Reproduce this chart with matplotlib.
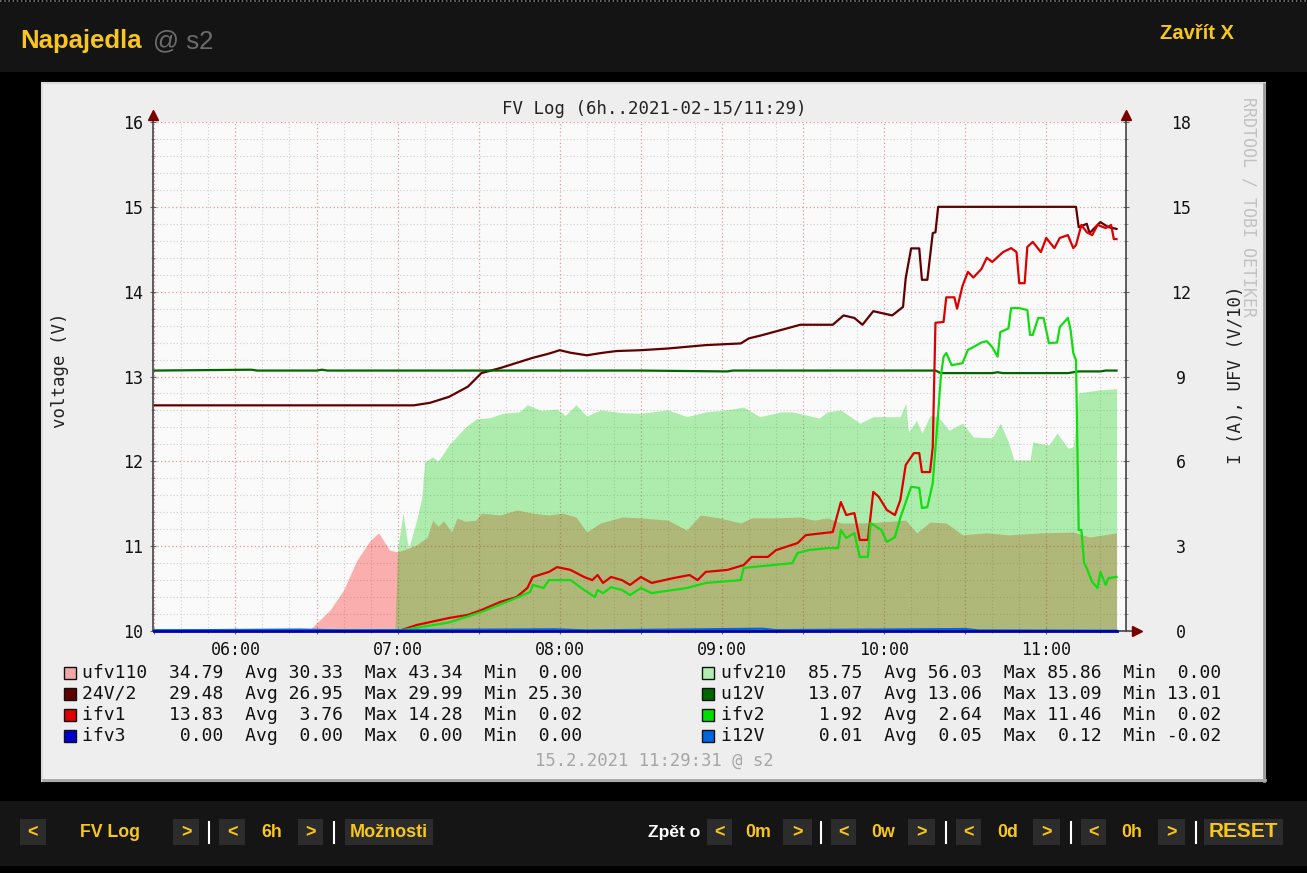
import numpy as np
import matplotlib
matplotlib.use('Agg')
import matplotlib.pyplot as plt
from matplotlib.patches import Rectangle
from matplotlib.lines import Line2D
from matplotlib.ticker import MultipleLocator, FuncFormatter

# ---- series (time HH:MM, value) ----
# voltages on the left axis (V)
u24_half_t = ['05:30', '07:06', '07:12', '07:17', '07:19', '07:26', '07:31', '07:38', '07:44', '07:50',
              '07:56', '08:00', '08:04', '08:10', '08:16', '08:21', '08:30', '08:40', '08:54', '09:07',
              '09:10', '09:14', '09:29', '09:41', '09:45', '09:49', '09:52', '09:56', '10:03', '10:07',
              '10:08', '10:10', '10:13', '10:14', '10:16', '10:18', '10:19', '10:20', '11:11', '11:12',
              '11:15', '11:16', '11:20', '11:23', '11:26']
u24_half_v = [12.66, 12.66, 12.69, 12.74, 12.76, 12.88, 13.04, 13.10, 13.16, 13.22,
              13.27, 13.31, 13.28, 13.25, 13.28, 13.30, 13.31, 13.33, 13.37, 13.39,
              13.45, 13.48, 13.61, 13.61, 13.72, 13.69, 13.61, 13.77, 13.72, 13.82,
              14.16, 14.51, 14.51, 14.14, 14.14, 14.69, 14.70, 15.00, 15.00, 14.76,
              14.80, 14.69, 14.82, 14.76, 14.74]

u12v_t = ['05:30', '06:06', '06:08', '06:30', '06:32', '06:34', '07:20', '08:30', '09:02', '09:04',
          '10:19', '10:21', '10:40', '10:42', '10:44', '11:08', '11:12', '11:20', '11:22', '11:26']
u12v_v = [13.07, 13.08, 13.07, 13.07, 13.08, 13.07, 13.07, 13.07, 13.06, 13.07,
          13.07, 13.04, 13.04, 13.05, 13.04, 13.04, 13.06, 13.06, 13.07, 13.07]

# panel voltages (V, drawn as V/10 on the right axis)
ufv110_t = ['05:30', '06:27', '06:30', '06:35', '06:40', '06:45', '06:50', '06:53', '06:57', '07:00',
            '07:02', '07:07', '07:11', '07:13', '07:15', '07:17', '07:20', '07:22', '07:25', '07:29',
            '07:31', '07:38', '07:44', '07:50', '07:56', '08:01', '08:06', '08:10', '08:15', '08:23',
            '08:30', '08:40', '08:47', '08:52', '08:59', '09:07', '09:11', '09:19', '09:29', '09:34',
            '09:39', '09:44', '09:51', '09:58', '10:08', '10:12', '10:17', '10:23', '10:29', '10:38',
            '10:46', '10:58', '11:10', '11:16', '11:26']
ufv110_v = [0.0, 0.0, 2.8, 7.4, 14.5, 25.1, 32.2, 34.7, 28.6, 28.0,
            28.6, 30.4, 33.2, 39.2, 37.0, 39.0, 35.0, 40.0, 38.8, 39.2,
            41.7, 41.0, 42.8, 41.7, 41.0, 41.7, 40.3, 35.0, 38.2, 40.3,
            40.0, 39.2, 35.7, 41.0, 40.0, 38.2, 40.0, 40.0, 40.3, 39.2,
            40.0, 38.2, 38.2, 38.5, 39.2, 34.7, 38.5, 38.2, 34.0, 34.7,
            34.0, 34.7, 35.0, 33.2, 34.7]

ufv210_t = ['05:30', '06:59', '07:00', '07:02', '07:04', '07:07', '07:09', '07:10', '07:13', '07:15',
            '07:19', '07:25', '07:29', '07:34', '07:39', '07:45', '07:48', '07:53', '07:59', '08:02',
            '08:06', '08:10', '08:15', '08:23', '08:30', '08:40', '08:47', '08:54', '09:02', '09:08',
            '09:14', '09:22', '09:26', '09:36', '09:39', '09:44', '09:51', '09:56', '10:06', '10:08',
            '10:09', '10:12', '10:14', '10:17', '10:20', '10:24', '10:29', '10:33', '10:40', '10:43',
            '10:46', '10:48', '10:54', '10:55', '11:01', '11:04', '11:08', '11:10', '11:12', '11:19',
            '11:26']
ufv210_v = [0.0, 0.0, 29.0, 41.7, 29.0, 39.0, 47.4, 59.8, 61.5, 60.0,
            65.8, 72.0, 75.0, 75.4, 77.0, 77.5, 80.0, 78.0, 78.5, 76.2,
            80.0, 76.0, 78.2, 77.2, 77.0, 78.2, 75.8, 77.5, 78.2, 79.2,
            75.8, 77.5, 77.5, 75.3, 77.5, 78.2, 73.5, 75.8, 75.8, 80.6,
            70.3, 74.5, 70.0, 76.2, 75.8, 71.0, 73.5, 68.6, 68.3, 73.5,
            66.8, 60.5, 60.5, 66.8, 65.8, 70.0, 64.7, 65.0, 84.2, 85.2,
            85.7]

# currents (A, right axis)
ifv1_t = ['05:30', '07:01', '07:07', '07:19', '07:26', '07:31', '07:38', '07:44', '07:48', '07:50',
          '07:56', '07:59', '08:04', '08:09', '08:12', '08:14', '08:16', '08:19', '08:23', '08:26',
          '08:30', '08:34', '08:42', '08:48', '08:51', '08:54', '09:02', '09:08', '09:11', '09:17',
          '09:20', '09:28', '09:31', '09:41', '09:44', '09:46', '09:49', '09:51', '09:54', '09:56',
          '09:58', '10:01', '10:04', '10:06', '10:08', '10:11', '10:13', '10:14', '10:17', '10:18',
          '10:19', '10:22', '10:23', '10:26', '10:27', '10:29', '10:31', '10:33', '10:36', '10:38',
          '10:40', '10:44', '10:47', '10:49', '10:50', '10:52', '10:53', '10:55', '10:58', '11:00',
          '11:03', '11:05', '11:08', '11:10', '11:11', '11:13', '11:15', '11:17', '11:19', '11:22',
          '11:24', '11:25', '11:26']
ifv1_v = [0.02, 0.02, 0.21, 0.46, 0.57, 0.74, 1.03, 1.20, 1.52, 1.91,
          2.09, 2.26, 2.16, 1.91, 1.80, 1.98, 1.70, 1.91, 1.80, 1.63,
          1.91, 1.70, 1.87, 1.98, 1.80, 2.09, 2.16, 2.33, 2.62, 2.62,
          2.86, 3.11, 3.39, 3.50, 4.56, 4.10, 4.17, 3.22, 3.22, 4.92,
          4.75, 4.28, 4.10, 4.63, 5.87, 6.29, 6.29, 5.62, 5.62, 6.50,
          10.90, 10.93, 11.80, 11.80, 11.40, 12.20, 12.70, 12.50, 12.80, 13.20,
          13.05, 13.40, 13.54, 13.40, 12.30, 12.30, 13.58, 13.76, 13.40, 13.90,
          13.54, 13.90, 14.00, 13.54, 13.65, 14.36, 14.10, 14.00, 14.36, 14.25,
          14.36, 13.86, 13.86]

ifv2_t = ['05:30', '07:01', '07:19', '07:31', '07:44', '07:49', '07:50', '07:54', '07:56', '08:04',
          '08:08', '08:13', '08:14', '08:16', '08:19', '08:23', '08:26', '08:30', '08:34', '08:47',
          '08:54', '09:07', '09:08', '09:26', '09:28', '09:32', '09:39', '09:43', '09:44', '09:46',
          '09:49', '09:51', '09:54', '09:55', '09:59', '10:01', '10:04', '10:06', '10:10', '10:13',
          '10:14', '10:16', '10:18', '10:20', '10:21', '10:22', '10:23', '10:25', '10:29', '10:31',
          '10:33', '10:36', '10:38', '10:40', '10:42', '10:43', '10:46', '10:47', '10:50', '10:53',
          '10:54', '10:55', '10:57', '10:59', '11:01', '11:04', '11:05', '11:08', '11:09', '11:10',
          '11:11', '11:12', '11:13', '11:14', '11:15', '11:17', '11:19', '11:20', '11:22', '11:23',
          '11:26']
ifv2_v = [0.02, 0.02, 0.30, 0.67, 1.17, 1.38, 1.63, 1.52, 1.80, 1.80,
          1.52, 1.20, 1.45, 1.34, 1.55, 1.45, 1.27, 1.52, 1.34, 1.52,
          1.70, 1.80, 2.23, 2.40, 2.76, 2.86, 2.93, 2.93, 3.57, 3.29,
          3.46, 2.62, 2.62, 3.82, 3.57, 3.15, 3.32, 4.00, 5.10, 5.06,
          4.35, 4.38, 5.23, 7.70, 9.00, 9.70, 9.83, 9.40, 9.47, 9.94,
          10.04, 10.20, 10.25, 10.04, 9.70, 10.57, 10.70, 11.42, 11.42, 11.35,
          10.47, 10.47, 11.07, 11.07, 10.18, 10.20, 10.75, 11.07, 10.65, 9.83,
          9.58, 3.57, 3.57, 2.40, 2.22, 1.73, 1.52, 2.09, 1.63, 1.87,
          1.91]

ifv3_t = ['05:30', '11:26']
ifv3_v = [0.0, 0.0]

i12v_t = ['05:30', '06:24', '06:40', '07:58', '08:10', '09:15', '09:20', '10:30', '10:35', '11:26']
i12v_v = [0.02, 0.05, 0.02, 0.06, 0.02, 0.08, 0.03, 0.07, 0.02, 0.01]

# legend table: name, last, avg, max, min
leg_left = [('ufv110', 34.79, 30.33, 43.34, 0.00),
            ('24V/2', 29.48, 26.95, 29.99, 25.30),
            ('ifv1', 13.83, 3.76, 14.28, 0.02),
            ('ifv3', 0.00, 0.00, 0.00, 0.00)]
leg_right = [('ufv210', 85.75, 56.03, 85.86, 0.00),
             ('u12V', 13.07, 13.06, 13.09, 13.01),
             ('ifv2', 1.92, 2.64, 11.46, 0.02),
             ('i12V', 0.01, 0.05, 0.12, -0.02)]
leg_left_colors = ['#f0a8a8', '#600000', '#dd0000', '#0000cc']
leg_right_colors = ['#b2ecb2', '#006600', '#00dd00', '#0066dd']


def to_h(ts):
    return np.array([int(t[:2]) + int(t[3:5]) / 60 for t in ts])


W, H = 1307, 873
MONO = ['DejaVu Sans Mono']
WEB = ['Liberation Sans', 'DejaVu Sans']
YEL = '#f8c61c'

plt.rcParams['font.family'] = MONO


def fx(x):
    return x / W


def fy(y):
    return 1 - y / H


fig = plt.figure(figsize=(W / 100, H / 100), dpi=100, facecolor='black')


def rect(x0, y0, x1, y1, fc, ec='none', lw=0, z=-10):
    fig.add_artist(Rectangle((fx(x0), fy(y1)), fx(x1) - fx(x0), fy(y0) - fy(y1),
                             transform=fig.transFigure, facecolor=fc, edgecolor=ec, lw=lw, zorder=z))


# page header
rect(0, 2, W, 72, '#141414')
fig.add_artist(Line2D([0, 1], [fy(1), fy(1)], transform=fig.transFigure, color='#777777',
                      lw=1.2, ls=(0, (1, 1.5))))
fig.text(fx(20), fy(48), 'Napajedla', family=WEB, weight='bold', fontsize=18.5, color=YEL, va='baseline')
fig.text(fx(153), fy(48), '@ s2', family=WEB, fontsize=18.5, color='#6c6c6c', va='baseline')
fig.text(fx(1197), fy(39), 'Zavřít X', family=WEB, weight='bold', fontsize=14.5, color=YEL,
         ha='center', va='baseline')

# rrd image panel
rect(42, 83, 1265, 781, '#eeeeee', ec='#dadada', lw=1.5)
fig.add_artist(Line2D([fx(1264), fx(1264)], [fy(84), fy(781)], transform=fig.transFigure,
                      color='#9a9a9a', lw=2, zorder=-9))
fig.add_artist(Line2D([fx(43), fx(1265)], [fy(780), fy(780)], transform=fig.transFigure,
                      color='#a8a8a8', lw=2, zorder=-9))

ax = fig.add_axes([fx(153), fy(631), fx(1126) - fx(153), fy(122) - fy(631)])
ax.set_facecolor('#fafafa')
ax2 = ax.twinx()

x0, x1 = 5 + 29.5 / 60, 11 + 29.5 / 60
ax.set_xlim(x0, x1)
ax.set_ylim(10, 16)
ax2.set_ylim(0, 18)

ax.xaxis.set_major_locator(MultipleLocator(0.5))
ax.xaxis.set_minor_locator(MultipleLocator(1 / 6))
ax.xaxis.set_major_formatter(FuncFormatter(
    lambda v, p: f'{int(round(v)):02d}:00' if abs(v - round(v)) < 1e-6 else ''))
ax.yaxis.set_major_locator(MultipleLocator(1))
ax.yaxis.set_minor_locator(MultipleLocator(0.2))
ax2.yaxis.set_major_locator(MultipleLocator(3))
ax2.yaxis.set_minor_locator(MultipleLocator(0.6))

ax.set_axisbelow(True)
ax.grid(which='minor', color='#cfcfcf', lw=0.8, ls=(0, (1, 2)))
ax.grid(which='major', color='#e49a9a', lw=0.9, ls=(0, (1, 2)))

for a in (ax, ax2):
    for s in a.spines.values():
        s.set_visible(False)
ax.spines['left'].set_visible(True)
ax.spines['bottom'].set_visible(True)
ax2.spines['right'].set_visible(True)
for s in (ax.spines['left'], ax.spines['bottom'], ax2.spines['right']):
    s.set_color('#444444')
    s.set_linewidth(1.2)

ax.tick_params(axis='both', which='major', direction='inout', length=5, color='#666666',
               labelsize=12, labelcolor='#111111')
ax.tick_params(axis='both', which='minor', direction='inout', length=3, color='#888888')
ax.tick_params(axis='y', pad=5)
ax.tick_params(axis='x', pad=5)
ax2.tick_params(axis='y', which='major', direction='inout', length=5, color='#666666',
                labelsize=12, labelcolor='#111111', pad=37)
ax2.tick_params(axis='y', which='minor', direction='inout', length=3, color='#888888')
ax2.set_yticks(np.arange(0, 19, 3))
for lbl in ax2.get_yticklabels():
    lbl.set_horizontalalignment('center')

# areas (UFV/10 on right axis)
ax2.fill_between(to_h(ufv110_t), np.array(ufv110_v) / 10, color=(1, 0, 0), alpha=0.3, lw=0)
ax2.fill_between(to_h(ufv210_t), np.array(ufv210_v) / 10, color=(0, 0.8, 0), alpha=0.3, lw=0)

# voltage lines
ax.plot(to_h(u24_half_t), u24_half_v, color='#600000', lw=1.6)
ax.plot(to_h(u12v_t), u12v_v, color='#006600', lw=1.6)

# currents
ax2.plot(to_h(ifv1_t), ifv1_v, color='#dd0000', lw=1.6)
ax2.plot(to_h(ifv2_t), ifv2_v, color='#11dd11', lw=1.6)
ax2.plot(to_h(i12v_t), i12v_v, color='#0066dd', lw=1.6, clip_on=False)
ax2.plot(to_h(ifv3_t), ifv3_v, color='#0000aa', lw=2.0, clip_on=False)

# axis arrows
ax.plot([0, 0], [1, 1.012], transform=ax.transAxes, color='#444444', lw=1.2, clip_on=False)
ax.plot([1, 1], [1, 1.012], transform=ax.transAxes, color='#444444', lw=1.2, clip_on=False)
ax.plot([1, 1.008], [0, 0], transform=ax.transAxes, color='#444444', lw=1.2, clip_on=False)
ax.plot([0], [1.013], transform=ax.transAxes, marker='^', ms=7, color='#7a0000', clip_on=False)
ax.plot([1], [1.013], transform=ax.transAxes, marker='^', ms=7, color='#7a0000', clip_on=False)
ax.plot([1.011], [0], transform=ax.transAxes, marker='>', ms=7, color='#7a0000', clip_on=False)

# rrd texts
fig.text(fx(654), fy(109), 'FV Log (6h..2021-02-15/11:29)', ha='center', va='center',
         fontsize=12.5, color='#222222')
fig.text(fx(60), fy(370), 'voltage (V)', rotation=90, ha='center', va='center', fontsize=12.5, color='#222222')
fig.text(fx(1236), fy(375), 'I (A), UFV (V/10)', rotation=90, ha='center', va='center',
         fontsize=12.5, color='#222222')
fig.text(fx(1248), fy(207), 'RRDTOOL / TOBI OETIKER', rotation=270, ha='center', va='center',
         fontsize=12, color='#c2c2c2')
fig.text(fx(654), fy(761), '15.2.2021 11:29:31 @ s2', ha='center', va='center', fontsize=12.4,
         color='#a6a6a6')

rows_y = [673, 694, 715, 736]
for rows, colors, sq_x, tx in [(leg_left, leg_left_colors, 64, 82),
                               (leg_right, leg_right_colors, 702, 721)]:
    for (name, cur, avg, mx, mn), c, y in zip(rows, colors, rows_y):
        rect(sq_x, y - 6, sq_x + 12, y + 6, c, ec='#111111', lw=1, z=1)
        fig.text(fx(tx), fy(y), f'{name:<6}  {cur:5.2f}  Avg {avg:5.2f}  Max {mx:5.2f}  Min {mn:5.2f}',
                 ha='left', va='center', fontsize=13, color='#111111')

# bottom navigation bar
rect(0, 801, W, 866, '#151515')
nav_boxes = [(20, 46, '<'), (173, 199, '>'), (219, 245, '<'), (298, 323, '>'), (345, 433, 'Možnosti'),
             (707, 732, '<'), (783, 812, '>'), (831, 856, '<'), (908, 935, '>'), (956, 981, '<'),
             (1033, 1060, '>'), (1081, 1106, '<'), (1158, 1185, '>'), (1204, 1283, 'RESET')]
for bx0, bx1, s in nav_boxes:
    rect(bx0, 819, bx1, 845, '#2c2c2c', z=-5)
    size = 15 if s == 'RESET' else 13
    fig.text(fx((bx0 + bx1) / 2), fy(837), s, family=WEB, weight='bold', fontsize=size, color=YEL,
             ha='center', va='baseline')
nav_plain = [(110, 'FV Log'), (272, '6h'), (758, '0m'), (883, '0w'), (1008, '0d'), (1132, '0h')]
for x, s in nav_plain:
    fig.text(fx(x), fy(837), s, family=WEB, weight='bold', fontsize=12.8, color=YEL,
             ha='center', va='baseline')
fig.text(fx(674), fy(837), 'Zpět o', family=WEB, weight='bold', fontsize=12.5, color='white',
         ha='center', va='baseline')
for x in [209, 334, 821, 946, 1071, 1196]:
    fig.add_artist(Line2D([fx(x), fx(x)], [fy(822), fy(843)], transform=fig.transFigure,
                          color='white', lw=1.5))

fig.savefig('out.png', dpi=100, facecolor='black')
